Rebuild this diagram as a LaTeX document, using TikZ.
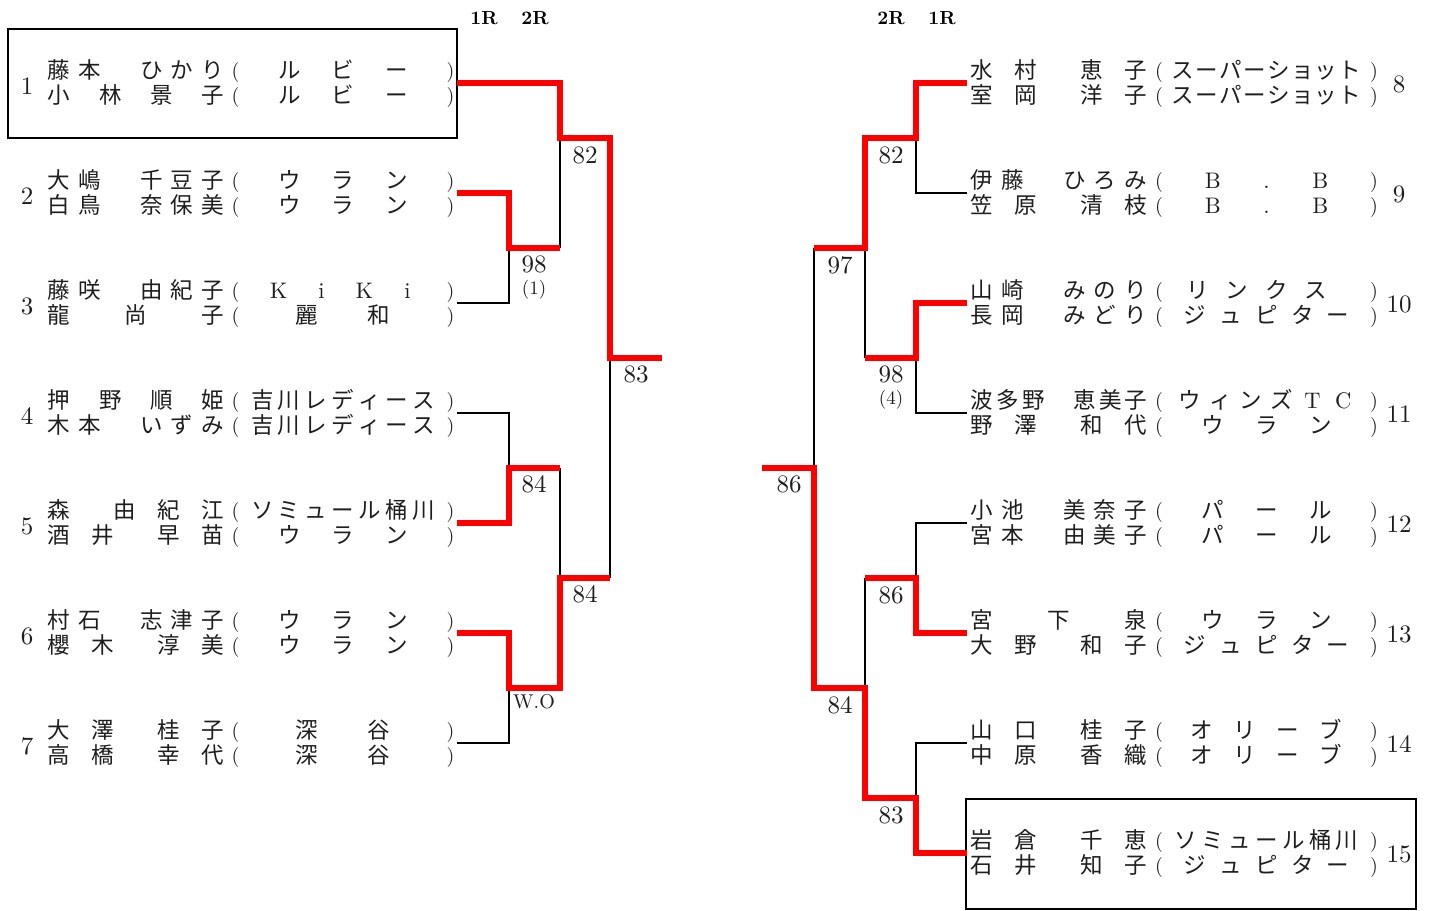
\documentclass[tikz,border=0pt]{standalone}
\usepackage{fontspec}
\newfontfamily\jp{Noto Sans CJK JP}
\newfontfamily\numfont{lmroman10-regular}[Extension=.otf, BoldFont=lmroman10-bold]
\definecolor{txt}{HTML}{1E1E1E}
\newcount\GRn
\def\E{}
\newcommand\lat{\numfont}
\newcommand\PL{\raisebox{1.5pt}{\numfont\fontsize{20}{24}\selectfont(}}
\newcommand\PR{\raisebox{1.5pt}{\numfont\fontsize{20}{24}\selectfont)}}
\newcommand\GlyphRow[2]{\foreach \g [count=\i from 0] in {#2}{\hbox to 0pt{\kern\dimexpr#1pt*\i\relax\hbox to 0pt{\hss\g\hss}\hss}}}
\newcommand\row[5]{%
  \global\GRn=0
  \foreach \g in {#5}{\global\advance\GRn by 1}%
  \pgfmathsetmacro\GRp{(#3-#2)/max(\the\GRn-1,1)}%
  \node[rowtxt] (#1) at (#2,#4+8) {\GlyphRow{\GRp}{#5}};}
\tikzset{
  redline/.style={draw=red, line width=6pt, line join=miter},
  blkline/.style={draw=black, line width=2pt},
  entrybox/.style={draw=black, line width=2pt},
  rowtxt/.style={anchor=base, inner sep=0pt, minimum size=0pt, font=\jp\fontsize{22.5}{26}\selectfont, text=txt},
  num/.style={font=\numfont\fontsize{25}{30}\selectfont, text=txt, inner sep=0pt},
  score/.style={font=\numfont\fontsize{25}{30}\selectfont, text=txt, inner sep=0pt},
  small/.style={font=\numfont\fontsize{19}{24}\selectfont, text=txt, inner sep=0pt},
  wo/.style={font=\numfont\fontsize{20}{24}\selectfont, text=txt, inner sep=0pt},
  hdr/.style={font=\numfont\bfseries\fontsize{19}{22}\selectfont, text=black, inner sep=0pt}
}
\begin{document}
\begin{tikzpicture}[x=1pt,y=-1pt]
\useasboundingbox (0,0) rectangle (1431,910);
% headers
\node[hdr] (hL1) at (484,18) {1R};
\node[hdr] (hL2) at (535,18) {2R};
\node[hdr] (hR2) at (891,18) {2R};
\node[hdr] (hR1) at (942,18) {1R};
% boxes
\draw[entrybox] (8,29) rectangle (457,138);
\draw[entrybox] (966,799) rectangle (1416,909);
% coordinates left
\coordinate (e1) at (457,83);
\coordinate (e2) at (457,193);
\coordinate (e3) at (457,303);
\coordinate (e4) at (457,413);
\coordinate (e5) at (457,523);
\coordinate (e6) at (457,633);
\coordinate (e7) at (457,743);
\coordinate (m23) at (509,248);
\coordinate (m45) at (509,468);
\coordinate (m67) at (509,688);
\coordinate (q1) at (560,138);
\coordinate (q2) at (560,578);
\coordinate (fL) at (610,358);
\coordinate (endL) at (662,358);
% coordinates right
\coordinate (f8) at (967,83);
\coordinate (f9) at (967,193);
\coordinate (f10) at (967,303);
\coordinate (f11) at (967,413);
\coordinate (f12) at (967,523);
\coordinate (f13) at (967,633);
\coordinate (f14) at (967,743);
\coordinate (f15) at (967,853);
\coordinate (r89) at (916,138);
\coordinate (r1011) at (916,358);
\coordinate (r1213) at (916,578);
\coordinate (r1415) at (916,798);
\coordinate (s1) at (865,248);
\coordinate (s2) at (865,688);
\coordinate (fR) at (814,468);
\coordinate (endR) at (762,468);
% black lines
\draw[blkline] (e3) -| (m23);
\draw[blkline] (q1) -- (560,248);
\draw[blkline] (e4) -| (m45);
\draw[blkline] (560,468) -- (q2);
\draw[blkline] (e7) -| (m67);
\draw[blkline] (fL) -- (610,578);
\draw[blkline] (f9) -| (r89);
\draw[blkline] (f11) -| (r1011);
\draw[blkline] (s1) -- (865,358);
\draw[blkline] (814,248) -- (fR);
\draw[blkline] (f12) -| (r1213);
\draw[blkline] (865,578) -- (s2);
\draw[blkline] (f14) -| (r1415);
% red lines
\draw[redline] (e1) -- (560,83) -- (q1) -- (610,138) -- (fL) -- (endL);
\draw[redline] (e2) -- (509,193) -- (m23) -- (560,248);
\draw[redline] (e5) -- (509,523) -- (m45) -- (560,468);
\draw[redline] (e6) -- (509,633) -- (m67) -- (560,688) -- (q2) -- (610,578);
\draw[redline] (f8) -- (916,83) -- (r89) -- (865,138) -- (s1) -- (814,248);
\draw[redline] (f10) -- (916,303) -- (r1011) -- (865,358);
\draw[redline] (f13) -- (916,633) -- (r1213) -- (865,578);
\draw[redline] (endR) -- (fR) -- (814,688) -- (s2) -- (865,798) -- (r1415) -- (916,853) -- (f15);
% scores
\node[score] (sc1) at (585,155) {82};
\node[score] (sc2) at (534,264) {98};
\node[small] (sc2b) at (534,290) {(1)};
\node[score] (sc3) at (636,374) {83};
\node[score] (sc4) at (534,484) {84};
\node[score] (sc5) at (585,594) {84};
\node[wo] (sc6) at (534,702) {W.O};
\node[score] (sc7) at (891,155) {82};
\node[score] (sc8) at (840,265) {97};
\node[score] (sc9) at (891,374) {98};
\node[small] (sc9b) at (891,400) {(4)};
\node[score] (sc10) at (789,484) {86};
\node[score] (sc11) at (891,595) {86};
\node[score] (sc12) at (840,705) {84};
\node[score] (sc13) at (891,815) {83};
% entry numbers
\node[num] (k1) at (27,86) {1};
\node[num] (k2) at (27,196) {2};
\node[num] (k3) at (27,306) {3};
\node[num] (k4) at (27,416) {4};
\node[num] (k5) at (27,526) {5};
\node[num] (k6) at (27,636) {6};
\node[num] (k7) at (27,746) {7};
\node[num] (k8) at (1399,84) {8};
\node[num] (k9) at (1399,194) {9};
\node[num] (k10) at (1399,304) {10};
\node[num] (k11) at (1399,414) {11};
\node[num] (k12) at (1399,524) {12};
\node[num] (k13) at (1399,634) {13};
\node[num] (k14) at (1399,744) {14};
\node[num] (k15) at (1399,854) {15};
% left entries
\row{n1a}{59}{213}{70.5}{藤,本,\E,ひ,か,り}
\row{t1a}{235.5}{450.5}{70.5}{\PL,\E,ル,\E,ビ,\E,ー,\E,\PR}
\row{n1b}{59}{213}{95.5}{小,\E,林,\E,景,\E,子}
\row{t1b}{235.5}{450.5}{95.5}{\PL,\E,ル,\E,ビ,\E,ー,\E,\PR}
\row{n2a}{59}{213}{180.5}{大,嶋,\E,千,豆,子}
\row{t2a}{235.5}{450.5}{180.5}{\PL,\E,ウ,\E,ラ,\E,ン,\E,\PR}
\row{n2b}{59}{213}{205.5}{白,鳥,\E,奈,保,美}
\row{t2b}{235.5}{450.5}{205.5}{\PL,\E,ウ,\E,ラ,\E,ン,\E,\PR}
\row{n3a}{59}{213}{290.5}{藤,咲,\E,由,紀,子}
\row{t3a}{235.5}{450.5}{290.5}{\PL,\E,\lat K,\E,\lat i,\E,\lat K,\E,\lat i,\E,\PR}
\row{n3b}{59}{213}{315.5}{龍,\E,\E,尚,\E,\E,子}
\row{t3b}{235.5}{450.5}{315.5}{\PL,\E,麗,\E,和,\E,\PR}
\row{n4a}{59}{213}{400.5}{押,\E,野,\E,順,\E,姫}
\row{t4a}{235.5}{450.5}{400.5}{\PL,吉,川,レ,デ,ィ,ー,ス,\PR}
\row{n4b}{59}{213}{425.5}{木,本,\E,い,ず,み}
\row{t4b}{235.5}{450.5}{425.5}{\PL,吉,川,レ,デ,ィ,ー,ス,\PR}
\row{n5a}{59}{213}{510.5}{森,\E,\E,由,\E,紀,\E,江}
\row{t5a}{235.5}{450.5}{510.5}{\PL,ソ,ミ,ュ,ー,ル,桶,川,\PR}
\row{n5b}{59}{213}{535.5}{酒,\E,井,\E,\E,早,\E,苗}
\row{t5b}{235.5}{450.5}{535.5}{\PL,\E,ウ,\E,ラ,\E,ン,\E,\PR}
\row{n6a}{59}{213}{620.5}{村,石,\E,志,津,子}
\row{t6a}{235.5}{450.5}{620.5}{\PL,\E,ウ,\E,ラ,\E,ン,\E,\PR}
\row{n6b}{59}{213}{645.5}{櫻,\E,木,\E,\E,淳,\E,美}
\row{t6b}{235.5}{450.5}{645.5}{\PL,\E,ウ,\E,ラ,\E,ン,\E,\PR}
\row{n7a}{59}{213}{730.5}{大,\E,澤,\E,\E,桂,\E,子}
\row{t7a}{235.5}{450.5}{730.5}{\PL,\E,深,\E,谷,\E,\PR}
\row{n7b}{59}{213}{755.5}{高,\E,橋,\E,\E,幸,\E,代}
\row{t7b}{235.5}{450.5}{755.5}{\PL,\E,深,\E,谷,\E,\PR}
% right entries
\row{n8a}{982}{1136}{70.5}{水,\E,村,\E,\E,恵,\E,子}
\row{t8a}{1159}{1374}{70.5}{\PL,ス,ー,パ,ー,シ,ョ,ッ,ト,\PR}
\row{n8b}{982}{1136}{95.5}{室,\E,岡,\E,\E,洋,\E,子}
\row{t8b}{1159}{1374}{95.5}{\PL,ス,ー,パ,ー,シ,ョ,ッ,ト,\PR}
\row{n9a}{982}{1136}{180.5}{伊,藤,\E,ひ,ろ,み}
\row{t9a}{1159}{1374}{180.5}{\PL,\E,\lat B,\E,\lat .,\E,\lat B,\E,\PR}
\row{n9b}{982}{1136}{205.5}{笠,\E,原,\E,\E,清,\E,枝}
\row{t9b}{1159}{1374}{205.5}{\PL,\E,\lat B,\E,\lat .,\E,\lat B,\E,\PR}
\row{n10a}{982}{1136}{290.5}{山,崎,\E,み,の,り}
\row{t10a}{1159}{1374}{290.5}{\PL,\E,リ,\E,ン,\E,ク,\E,ス,\E,\E,\PR}
\row{n10b}{982}{1136}{315.5}{長,岡,\E,み,ど,り}
\row{t10b}{1159}{1374}{315.5}{\PL,ジ,ュ,ピ,タ,ー,\PR}
\row{n11a}{982}{1136}{400.5}{波,多,野,\E,恵,美,子}
\row{t11a}{1159}{1374}{400.5}{\PL,ウ,ィ,ン,ズ,\lat T,\lat C,\PR}
\row{n11b}{982}{1136}{425.5}{野,\E,澤,\E,\E,和,\E,代}
\row{t11b}{1159}{1374}{425.5}{\PL,\E,ウ,\E,ラ,\E,ン,\E,\PR}
\row{n12a}{982}{1136}{510.5}{小,池,\E,美,奈,子}
\row{t12a}{1159}{1374}{510.5}{\PL,\E,パ,\E,ー,\E,ル,\E,\PR}
\row{n12b}{982}{1136}{535.5}{宮,本,\E,由,美,子}
\row{t12b}{1159}{1374}{535.5}{\PL,\E,パ,\E,ー,\E,ル,\E,\PR}
\row{n13a}{982}{1136}{620.5}{宮,\E,\E,下,\E,\E,泉}
\row{t13a}{1159}{1374}{620.5}{\PL,\E,ウ,\E,ラ,\E,ン,\E,\PR}
\row{n13b}{982}{1136}{645.5}{大,\E,野,\E,\E,和,\E,子}
\row{t13b}{1159}{1374}{645.5}{\PL,ジ,ュ,ピ,タ,ー,\PR}
\row{n14a}{982}{1136}{730.5}{山,\E,口,\E,\E,桂,\E,子}
\row{t14a}{1159}{1374}{730.5}{\PL,\E,オ,\E,リ,\E,ー,\E,ブ,\E,\PR}
\row{n14b}{982}{1136}{755.5}{中,\E,原,\E,\E,香,\E,織}
\row{t14b}{1159}{1374}{755.5}{\PL,\E,オ,\E,リ,\E,ー,\E,ブ,\E,\PR}
\row{n15a}{982}{1136}{840.5}{岩,\E,倉,\E,\E,千,\E,恵}
\row{t15a}{1159}{1374}{840.5}{\PL,ソ,ミ,ュ,ー,ル,桶,川,\PR}
\row{n15b}{982}{1136}{865.5}{石,\E,井,\E,\E,知,\E,子}
\row{t15b}{1159}{1374}{865.5}{\PL,ジ,ュ,ピ,タ,ー,\PR}
\end{tikzpicture}
\end{document}
